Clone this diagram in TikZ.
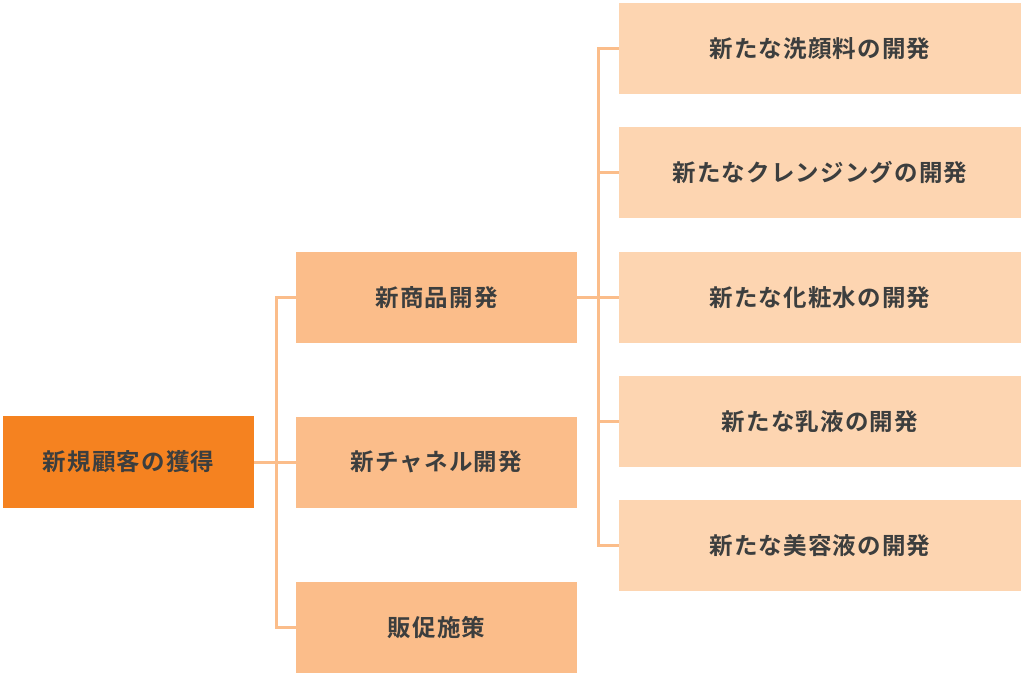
\documentclass[tikz,border=0pt]{standalone}
\usepackage{fontspec}
\setmainfont{Noto Sans CJK JP}[BoldFont=* Bold, LetterSpace=5]
\usepackage{tikz}
\definecolor{rootfill}{HTML}{F58220}
\definecolor{midfill}{HTML}{FBBD8A}
\definecolor{leaffill}{HTML}{FDD5B1}
\definecolor{linkcol}{HTML}{FBBD8A}
\definecolor{txtcol}{HTML}{3C3E3E}
\tikzset{
  box/.style={inner sep=0pt, text=txtcol, font=\fontsize{23.5}{26}\selectfont\bfseries},
  rootbox/.style={box, fill=rootfill, minimum width=251pt, minimum height=92pt},
  midbox/.style={box, fill=midfill, minimum width=281pt, minimum height=91pt},
  leafbox/.style={box, fill=leaffill, minimum width=402pt, minimum height=91pt},
  link/.style={draw=linkcol, line width=3pt}
}

\begin{document}
\begin{tikzpicture}[x=1pt,y=-1pt]
\useasboundingbox (0,0) rectangle (1024,676);
% root
\node[rootbox] (root) at (128.5,462) {新規顧客の獲得};
% second level
\node[midbox] (goods) at (436.5,297.5) {新商品開発};
\node[midbox] (chan) at (436.5,462) {新チャネル開発};
\node[midbox] (promo) at (436.5,627.5) {販促施策};
% third level
\node[leafbox] (wash) at (820,48.5) {新たな洗顔料の開発};
\node[leafbox] (clean) at (820,172.5) {新たなクレンジングの開発};
\node[leafbox] (lotion) at (820,297.5) {新たな化粧水の開発};
\node[leafbox] (milk) at (820,421.5) {新たな乳液の開発};
\node[leafbox] (serum) at (820,545.5) {新たな美容液の開発};
% connectors
\coordinate (busA) at (276,462);
\coordinate (busB) at (598,297.5);
\draw[link] (root.east) -- (chan.west);
\draw[link] (goods.west) -| (busA) |- (promo.west);
\draw[link] (goods.east) -- (lotion.west);
\draw[link] (wash.west) -| (busB) |- (serum.west);
\foreach \n in {clean,milk}
  \draw[link] (busB |- \n.west) -- (\n.west);
\end{tikzpicture}
\end{document}
